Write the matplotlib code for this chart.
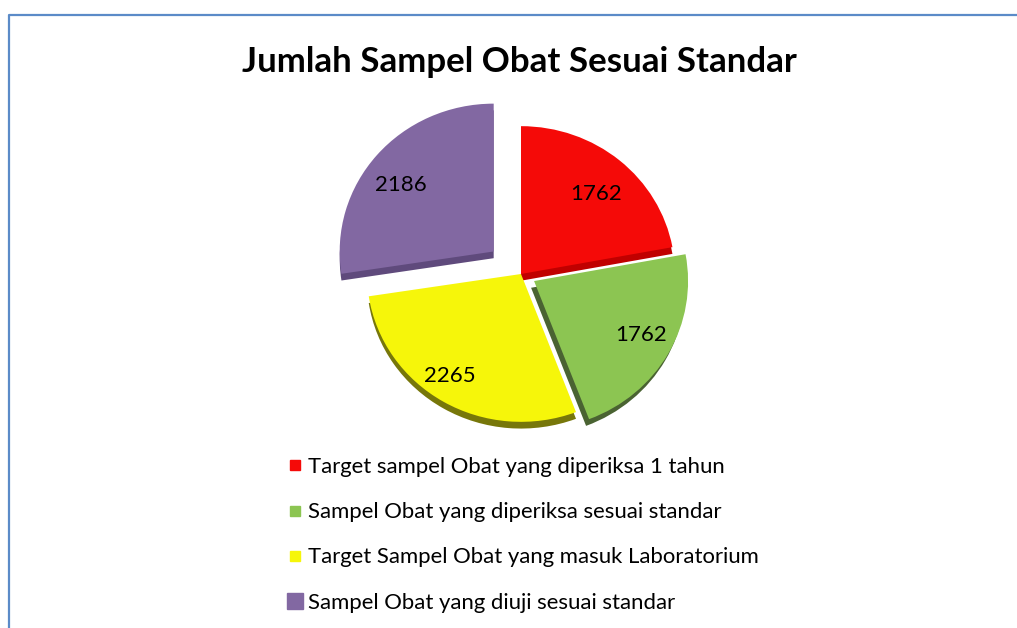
# Jumlah sampel obat - exploded pie with fake 3D depth
import matplotlib
matplotlib.use('Agg')
import matplotlib.pyplot as plt
from matplotlib.lines import Line2D

plt.rcParams['font.family'] = ['Lato', 'DejaVu Sans']

labels = ['Target sampel Obat yang diperiksa 1 tahun',
          'Sampel Obat yang diperiksa sesuai standar',
          'Target Sampel Obat yang masuk Laboratorium',
          'Sampel Obat yang diuji sesuai standar']
values = [1762, 1762, 2265, 2186]
explode = [0, 15, 0, 36]  # explode is in data units here, the axes run in pixels
colors = ['#F50A08', '#8CC552', '#F6F60A', '#8268A2']
side_colors = ['#C00000', '#4A6332', '#77770A', '#5F4A7C']
side_shift = [0, -3, 0, 0]  # green shows its side on the left too
label_nudge = [(1, -5), (6, 0), (-13, -6), (-5, -6)]
marker_sizes = [7, 7, 7, 11]

squash = 0.96  # pie is a bit flatter than a circle
fig = plt.figure(figsize=(10.17, 6.28), dpi=100)
ax = fig.add_axes([0, 0, 1, 1])

cx, cy = 521, (628 - 274) / squash
radius = 154

# darker copy underneath gives the slice depth
side_wedges, _ = ax.pie(values, explode=explode, colors=side_colors, startangle=90,
                        counterclock=False, radius=radius, center=(cx, cy - 7))
for wedge, dx in zip(side_wedges, side_shift):
    wedge.set_center((wedge.center[0] + dx, wedge.center[1]))


def show_value(pct):
    return str(round(pct * sum(values) / 100))


wedges, texts, autotexts = ax.pie(values, explode=explode, colors=colors, startangle=90,
                                  counterclock=False, radius=radius, center=(cx, cy),
                                  autopct=show_value, pctdistance=0.75,
                                  textprops={'fontsize': 16, 'color': 'black'})
for txt, (dx, dy) in zip(autotexts, label_nudge):
    x, y = txt.get_position()
    txt.set_position((x + dx, y + dy))

ax.set_aspect('auto')
ax.set_xlim(0, 1017)
ax.set_ylim(0, 628 / squash)
ax.axis('off')

handles = [Line2D([], [], linestyle='none', marker='s', markersize=s, color=c)
           for s, c in zip(marker_sizes, colors)]
ax.legend(handles, labels, loc='upper left', bbox_to_anchor=(275 / 1017, 1 - 450.5 / 628),
          frameon=False, fontsize=15.9, labelspacing=1.14, handletextpad=0,
          handlelength=1.2, borderpad=0.3, borderaxespad=0)

fig.text(519 / 1017, 1 - 62 / 628, 'Jumlah Sampel Obat Sesuai Standar',
         ha='center', va='center', fontsize=25.1, fontweight='bold')

# blue frame of the chart
frame_x = [8.5 / 1017, 8.5 / 1017, 1]
frame_y = [0, 1 - 15 / 628, 1 - 15 / 628]
fig.add_artist(Line2D(frame_x, frame_y, color='#5B8BC8', linewidth=1.6))

fig.savefig('out.png', dpi=100)
